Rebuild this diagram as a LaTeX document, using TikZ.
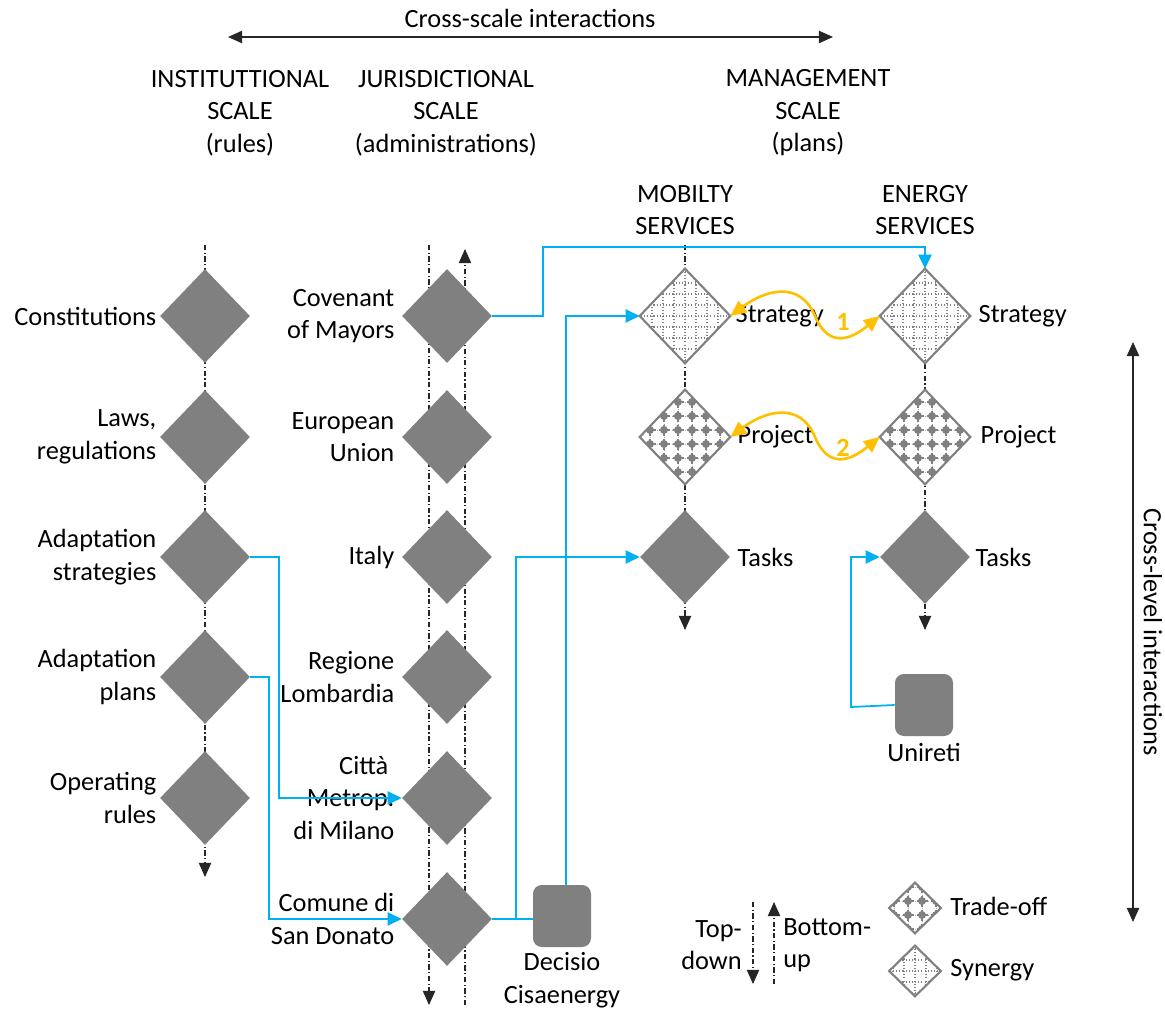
\documentclass[tikz,border=0pt]{standalone}
\usepackage{fontspec}
\setmainfont{Carlito}
\usetikzlibrary{shapes.geometric,arrows.meta,calc}
\definecolor{dgray}{HTML}{808080}
\definecolor{cblue}{HTML}{00B0F0}
\definecolor{corange}{HTML}{FFC000}
\newcommand\synpat[1]{%
 \begin{scope}
  \clip (#1.north) -- (#1.east) -- (#1.south) -- (#1.west) -- cycle;
  \begin{scope}[shift={(#1.center)}]
   \foreach \u in {-55,-44,-33,-22,-11,0,11,22,33,44,55}{
     \draw[dgray, line width=0.6pt, dash pattern=on 0.6pt off 1.2pt] (\u,-60) -- (\u,60) (-60,\u) -- (60,\u);}
  \end{scope}
 \end{scope}
 \draw[dgray, line width=1.2pt] (#1.north) -- (#1.east) -- (#1.south) -- (#1.west) -- cycle;}
\newcommand\tradpat[1]{%
 \begin{scope}
  \clip (#1.north) -- (#1.east) -- (#1.south) -- (#1.west) -- cycle;
  \begin{scope}[shift={(#1.center)}]
   \foreach \u in {-49,-35,-21,-7,7,21,35,49}{
     \draw[dgray!70, line width=0.5pt, dash pattern=on 0.6pt off 1.2pt] (\u,-60) -- (\u,60) (-60,\u) -- (60,\u);}
   \foreach \u in {-49,-35,-21,-7,7,21,35,49}{
     \foreach \v in {-49,-35,-21,-7,7,21,35,49}{
       \fill[dgray] (\u,\v) circle (0.08cm);
       \draw[dgray, line width=1.3pt] (\u-5.5,\v) -- (\u+5.5,\v) (\u,\v-5.5) -- (\u,\v+5.5);}}
  \end{scope}
 \end{scope}
 \draw[dgray, line width=1.2pt] (#1.north) -- (#1.east) -- (#1.south) -- (#1.west) -- cycle;}
\begin{document}
\begin{tikzpicture}[x=0.02cm,y=-0.02cm,
  every node/.style={font=\fontsize{15}{18.5}\selectfont},
  dia/.style={diamond, fill=dgray, inner sep=0pt, minimum width=1.8cm, minimum height=1.88cm},
  pdia/.style={diamond, fill=white, inner sep=0pt, minimum width=1.8cm, minimum height=1.88cm},
  ldia/.style={diamond, fill=white, inner sep=0pt, minimum width=1.02cm, minimum height=1.0cm},
  lbl/.style={align=right, anchor=east, inner sep=0pt},
  rlbl/.style={align=left, anchor=west, inner sep=0pt},
  hdr/.style={align=center, inner sep=0pt},
  dd/.style={line width=0.6pt, black!85, dash pattern=on 3pt off 1.4pt on 0.7pt off 1.4pt},
  tipar/.style={-{Triangle[length=8pt,width=7pt]}},
  bl/.style={cblue, line width=1pt},
  blar/.style={bl, -{Triangle[length=8pt,width=7.5pt]}},
  rbox/.style={rounded corners=5pt, fill=dgray, minimum width=1.16cm, minimum height=1.24cm, inner sep=0pt},
  orar/.style={corange, line width=1.5pt, {Triangle[length=9pt,width=8pt]}-{Triangle[length=9pt,width=8pt]}},
]
\useasboundingbox (0,0) rectangle (1165,1013);

% top cross-scale arrow
\node[hdr] (cst) at (530,18) {Cross-scale interactions};
\coordinate (csL) at (228,37);
\coordinate (csR) at (833,37);
\draw[black!85, line width=0.7pt, {Triangle[length=8pt,width=7pt]}-{Triangle[length=8pt,width=7pt]}] (csL) -- (csR);

% headers
\node[hdr] (h1) at (240,113) {INSTITUTTIONAL\\SCALE\\(rules)};
\node[hdr] (h2) at (446,113) {JURISDICTIONAL\\SCALE\\(administrations)};
\node[hdr] (h3) at (808,113) {MANAGEMENT\\SCALE\\(plans)};
\node[hdr] (h4) at (685,210) {MOBILTY\\SERVICES};
\node[hdr] (h5) at (925,210) {ENERGY\\SERVICES};

% dashed axes
\coordinate (a1t) at (205,245); \coordinate (a1b) at (205,877);
\coordinate (a2t) at (429,245); \coordinate (a2b) at (429,1005);
\coordinate (a3t) at (465,249); \coordinate (a3b) at (465,1005);
\coordinate (a4t) at (685,245); \coordinate (a4b) at (685,630);
\coordinate (a5t) at (925,250); \coordinate (a5b) at (925,630);
\draw[dd, tipar] (a1t) -- (a1b);
\draw[dd, tipar] (a2t) -- (a2b);
\draw[dd, tipar] (a3b) -- (a3t);
\draw[dd, tipar] (a4t) -- (a4b);
\draw[dd, tipar] (a5t) -- (a5b);

% institutional column
\node[dia] (i1) at (205,316) {};
\node[dia] (i2) at (205,437) {};
\node[dia] (i3) at (205,557) {};
\node[dia] (i4) at (205,677) {};
\node[dia] (i5) at (205,798) {};
\node[lbl] at ([xshift=-0.06cm]i1.west) {Constitutions};
\node[lbl] at ([xshift=-0.06cm]i2.west) {Laws,\\regulations};
\node[lbl] at ([xshift=-0.06cm]i3.west) {Adaptation\\strategies};
\node[lbl] at ([xshift=-0.06cm]i4.west) {Adaptation\\plans};
\node[lbl] at ([xshift=-0.06cm]i5.west) {Operating\\rules};

% jurisdictional column
\node[dia] (j1) at (447,316) {};
\node[dia] (j2) at (447,437) {};
\node[dia] (j3) at (447,557) {};
\node[dia] (j4) at (447,677) {};
\node[dia] (j5) at (447,798) {};
\node[dia] (j6) at (447,919) {};
\node[lbl] at ([xshift=-0.14cm]j1.west) {Covenant\\of Mayors};
\node[lbl] at ([xshift=-0.14cm]j2.west) {European\\Union};
\node[lbl] at ([xshift=-0.14cm]j3.west) {Italy};
\node[lbl] at ([xshift=-0.14cm]j4.west) {Regione\\Lombardia};
\node[lbl] at ([xshift=-0.14cm]j5.west) {Città\hspace*{3.4pt}\\Metrop.\\di Milano};
\node[lbl] at ([xshift=-0.14cm]j6.west) {Comune di\\San Donato};

% mobility column
\node[pdia] (m1) at (685,316) {};
\synpat{m1}
\node[pdia] (m2) at (685,437) {};
\tradpat{m2}
\node[dia] (m3) at (685,557) {};
\node[rlbl] at ([xshift=0.1cm]m1.east) {Strategy};
\node[rlbl] at ([xshift=0.14cm]m2.east) {Project};
\node[rlbl] at ([xshift=0.14cm]m3.east) {Tasks};

% energy column
\node[pdia] (e1) at (925,316) {};
\synpat{e1}
\node[pdia] (e2) at (925,437) {};
\tradpat{e2}
\node[dia] (e3) at (925,557) {};
\node[rlbl] at ([xshift=0.16cm]e1.east) {Strategy};
\node[rlbl] at ([xshift=0.2cm]e2.east) {Project};
\node[rlbl] at ([xshift=0.1cm]e3.east) {Tasks};

% boxes
\node[rbox] (dec) at (562,916) {};
\node[hdr] at (562,980) {Decisio\\Cisaenergy};
\node[rbox] (uni) at (924,705) {};
\node[hdr] at (924,752) {Unireti};

% blue connectors
\draw[blar] (j1.east) -- (543,316) -- (543,247) -| (e1.north);
\draw[blar] ([xshift=0.08cm]dec.north) |- (m1.west);
\coordinate (br) at (516,919);
\draw[bl] (j6.east) -- (j6.east -| dec.west);
\draw[blar] (br) |- (m3.west);
\draw[blar] (i3.east) -- (279,557) |- (j5.west);
\draw[blar] (i4.east) -- (269,677) |- (j6.west);
\draw[blar] (uni.west) -- (851,707) |- (e3.west);

% orange trade-off/synergy arrows
\draw[orar] (m1.east) .. controls (765,290) and (800,280) .. (815,316) .. controls (830,352) and (855,336) .. (e1.west);
\draw[orar] (m2.east) .. controls (765,411) and (800,401) .. (815,437) .. controls (830,473) and (855,457) .. (e2.west);
\node[text=corange, font=\fontsize{15}{18}\selectfont\bfseries] (n1) at (843,322) {1};
\node[text=corange, font=\fontsize{15}{18}\selectfont\bfseries] (n2) at (843,448) {2};

% right cross-level arrow
\coordinate (clT) at (1133,342);
\coordinate (clB) at (1133,922);
\draw[black!85, line width=0.7pt, {Triangle[length=8pt,width=7pt]}-{Triangle[length=8pt,width=7pt]}] (clT) -- (clB);
\node[rotate=-90, inner sep=0pt] (clt) at (1153,632) {Cross-level interactions};

% legend
\coordinate (tdT) at (753,902); \coordinate (tdB) at (753,984);
\coordinate (buT) at (774,902); \coordinate (buB) at (774,984);
\draw[dd, tipar] (tdT) -- (tdB);
\draw[dd, tipar] (buB) -- (buT);
\node[lbl] at (742,945) {Top-\\down};
\node[rlbl] at (783,945) {Bottom-\\up};
\node[ldia] (lt) at (915,908) {};
\tradpat{lt}
\node[ldia] (ls) at (915,971) {};
\synpat{ls}
\node[rlbl] at (950,906) {Trade-off};
\node[rlbl] at (950,970) {Synergy};
\end{tikzpicture}
\end{document}
